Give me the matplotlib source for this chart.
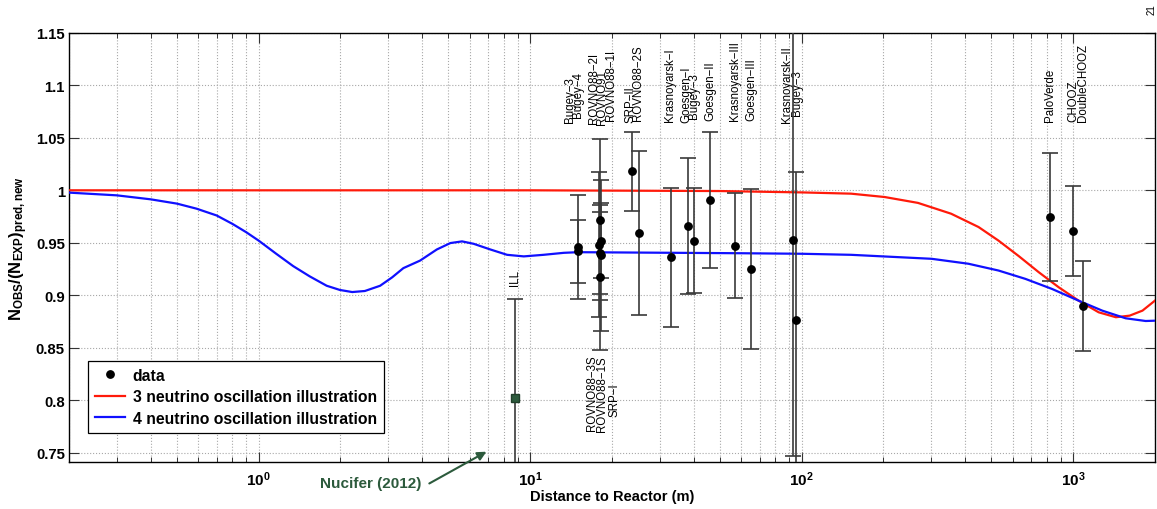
import matplotlib
matplotlib.use('Agg')
import matplotlib.pyplot as plt
from matplotlib.lines import Line2D
from matplotlib.ticker import FixedLocator, FixedFormatter, LogLocator, NullFormatter

plt.rcParams['font.family'] = 'Liberation Sans'
plt.rcParams['mathtext.fontset'] = 'custom'
plt.rcParams['mathtext.rm'] = 'Liberation Sans:bold'
plt.rcParams['mathtext.bf'] = 'Liberation Sans:bold'
plt.rcParams['mathtext.it'] = 'Liberation Sans:bold:italic'

# reactor experiments: name, distance (m), observed/expected ratio, error
names = ['Bugey\u22124', 'Bugey\u22123', 'ROVNO91', 'ROVNO88\u22121I', 'ROVNO88\u22122I',
         'ROVNO88\u22121S', 'ROVNO88\u22123S', 'SRP\u2212I', 'SRP\u2212II', 'ROVNO88\u22122S',
         'Krasnoyarsk\u2212I', 'Goesgen\u2212I', 'Bugey\u22123', 'Goesgen\u2212II',
         'Krasnoyarsk\u2212III', 'Goesgen\u2212III', 'Krasnoyarsk\u2212II', 'Bugey\u22123',
         'PaloVerde', 'CHOOZ', 'DoubleCHOOZ']
dist = [15, 15, 18.0, 18.0, 17.96, 18.15, 18.18, 18.2, 23.8, 25.2,
        33, 38, 40, 46, 57, 65, 93, 95, 820, 1000, 1090]
ratio = [0.942, 0.946, 0.940, 0.917, 0.948, 0.972, 0.938, 0.952, 1.018, 0.959,
         0.936, 0.966, 0.952, 0.991, 0.947, 0.925, 0.953, 0.876, 0.975, 0.961, 0.890]
err = [0.030, 0.050, 0.039, 0.069, 0.069, 0.077, 0.072, 0.036, 0.038, 0.078,
       0.066, 0.065, 0.050, 0.065, 0.050, 0.076, 0.206, 0.141, 0.061, 0.043, 0.043]

# ILL point with the Nucifer projection
ill_dist = 8.76
ill_ratio = 0.802
ill_err = 0.094

# oscillation curves
red_d = [0.2, 1, 10, 50, 100, 152, 202, 268, 355, 448, 531, 630, 746, 884,
         1047, 1241, 1436, 1614, 1800, 2000]
red_v = [1.0, 1.0, 1.0, 0.9993, 0.998, 0.9968, 0.9936, 0.988, 0.9777, 0.965,
         0.952, 0.9373, 0.922, 0.9076, 0.8948, 0.8837, 0.879, 0.8805, 0.8853, 0.8948]
blue_d = [0.2, 0.3, 0.4, 0.5, 0.59, 0.7, 0.8, 0.9, 1.0, 1.16, 1.34, 1.54, 1.78,
          1.99, 2.21, 2.46, 2.8, 3.1, 3.41, 3.93, 4.53, 5.08, 5.61, 6.19, 7.13,
          8.22, 9.47, 11.2, 13.3, 15, 30, 60, 100, 152, 301, 411, 531, 666, 835,
          1047, 1279, 1560, 1849, 2000]
blue_v = [0.9978, 0.9952, 0.9914, 0.9873, 0.9825, 0.976, 0.968, 0.960, 0.952,
          0.9395, 0.9277, 0.918, 0.909, 0.905, 0.903, 0.904, 0.909, 0.917, 0.9258,
          0.933, 0.9436, 0.9497, 0.9513, 0.949, 0.9436, 0.9385, 0.937, 0.9385,
          0.9404, 0.941, 0.9405, 0.940, 0.9395, 0.9385, 0.9347, 0.930, 0.9235,
          0.9156, 0.906, 0.8948, 0.8853, 0.878, 0.8754, 0.8757]

# label placement: horizontal shift (points), height, above/below
lab_dx = [0, -5.5, 2, 8.5, -4, 1.2, -6.5, 9.5, -1.7, -0.5,
          -0.7, -0.7, 0.4, 0, 0, 0, -4.3, 1.2, 0, 0, 0]
lab_y = [1.0695, 1.0647, 1.0628, 1.067, 1.0638, 0.843, 0.844, 0.817, 1.0654, 1.067,
         1.066, 1.0654, 1.0685, 1.067, 1.067, 1.067, 1.0647, 1.0717, 1.066, 1.066, 1.066]
below = ['ROVNO88\u22121S', 'ROVNO88\u22123S', 'SRP\u2212I']

green = '#2c5a3c'
barcol = '#3a3a3a'

fig = plt.figure(figsize=(11.57, 5.10), dpi=100)
ax = fig.add_axes([0.0596, 0.0922, 0.9386, 0.8412])

ax.plot(red_d, red_v, color='#ff1a0a', lw=1.6, zorder=3)
ax.plot(blue_d, blue_v, color='#1010ff', lw=1.6, zorder=3)

ax.errorbar(dist, ratio, yerr=err, fmt='o', color='black', ms=5.3,
            ecolor=barcol, elinewidth=1.2, capsize=5.5, capthick=1.2, zorder=4)
ax.errorbar([ill_dist], [ill_ratio], yerr=[ill_err], fmt='s', color=green,
            mec='#1f3d29', ms=6, ecolor=barcol, elinewidth=1.2, capsize=5.5,
            capthick=1.2, zorder=4)

for i, name in enumerate(names):
    va = 'top' if name in below else 'bottom'
    ax.annotate(name, (dist[i], lab_y[i]), xytext=(lab_dx[i], 0),
                textcoords='offset points', rotation=90, ha='center', va=va,
                fontsize=8.3)
ax.annotate('ILL', (ill_dist, 0.9099), rotation=90, ha='center', va='bottom',
            fontsize=8.3)

ax.set_xscale('log')
ax.set_xlim(0.2, 2000)
ax.set_ylim(0.741, 1.15)

ax.xaxis.set_major_locator(FixedLocator([1, 10, 100, 1000]))
ax.xaxis.set_major_formatter(FixedFormatter([r'$\mathbf{10^{0}}$', r'$\mathbf{10^{1}}$',
                                             r'$\mathbf{10^{2}}$', r'$\mathbf{10^{3}}$']))
ax.xaxis.set_minor_locator(LogLocator(base=10, subs=range(2, 10)))
ax.xaxis.set_minor_formatter(NullFormatter())
yt = [0.75, 0.8, 0.85, 0.9, 0.95, 1, 1.05, 1.1, 1.15]
ax.set_yticks(yt)
ax.set_yticklabels(['0.75', '0.8', '0.85', '0.9', '0.95', '1', '1.05', '1.1', '1.15'],
                   fontweight='bold', fontsize=10.7)
ax.tick_params(axis='x', labelsize=11)
ax.tick_params(which='both', direction='in', top=True, right=True, color='#333333')
ax.tick_params(which='major', length=7, width=0.8, pad=5)
ax.tick_params(which='minor', length=3.5, width=0.7)
ax.tick_params(axis='y', pad=3)

ax.grid(True, which='major', axis='both', ls=':', color='#a8a8a8', lw=0.8)
ax.grid(True, which='minor', axis='x', ls=':', color='#a8a8a8', lw=0.8)
for s in ax.spines.values():
    s.set_linewidth(1.0)

ax.set_xlabel('Distance to Reactor (m)', fontsize=10.5, fontweight='bold', labelpad=1)
ax.set_ylabel(r'$\mathbf{N_{OBS}/(N_{EXP})_{pred,new}}$', fontsize=12, labelpad=4)

handles = [Line2D([], [], ls='none', marker='o', color='black', ms=5.3),
           Line2D([], [], color='#ff1a0a', lw=1.6),
           Line2D([], [], color='#1010ff', lw=1.6)]
leg = ax.legend(handles, ['data', '3 neutrino oscillation illustration',
                          '4 neutrino oscillation illustration'],
                loc='lower left', bbox_to_anchor=(0.0175, 0.0676), borderaxespad=0,
                prop={'weight': 'bold', 'size': 11.3}, fancybox=False, framealpha=1,
                edgecolor='black', handlelength=1.9, handletextpad=0.5,
                labelspacing=0.42, borderpad=0.45)
leg.get_frame().set_linewidth(0.9)

ax.annotate('Nucifer (2012)', xy=(6.9, 0.7508), xycoords='data',
            xytext=(371, 25.5), textcoords='figure pixels', ha='center', va='center',
            fontsize=11, fontweight='bold', color=green, annotation_clip=False,
            arrowprops=dict(arrowstyle='-|>', color=green, lw=1.5, mutation_scale=13,
                            relpos=(1.0, 0.2), shrinkA=4, shrinkB=0))

fig.text(0.9955, 0.982, '21', rotation=90, fontsize=7, ha='center', va='center')

fig.savefig('out.png', dpi=100)
